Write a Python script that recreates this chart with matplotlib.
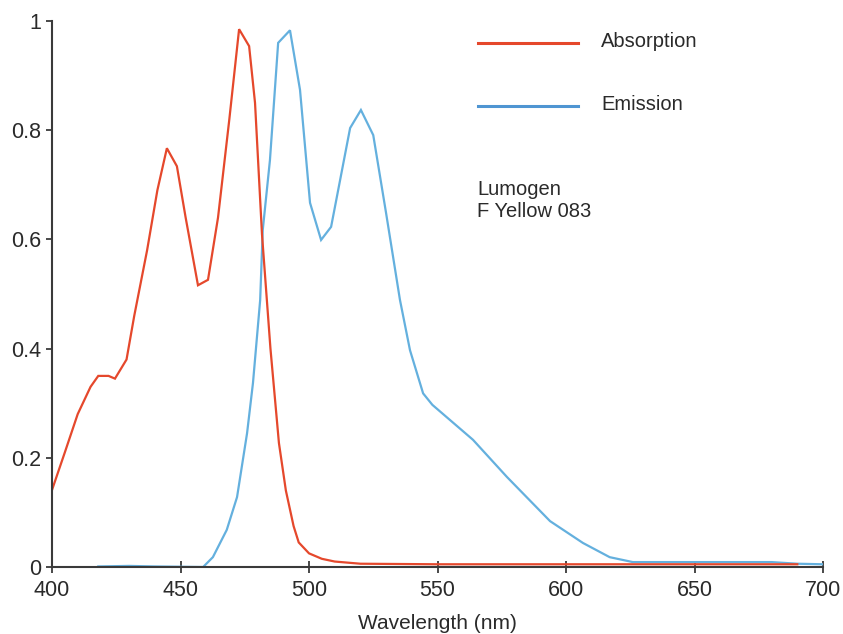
import matplotlib
matplotlib.use("Agg")
import matplotlib.pyplot as plt

abs_x = [400, 405, 410, 415, 418, 422, 424.5, 429, 432, 437, 441, 444.7, 448.6, 452,
         456.8, 460.7, 464.6, 469, 472.8, 476.7, 479, 481.7, 485, 488.3, 491, 494, 496,
         500, 505, 510, 520, 550, 600, 650, 690]
abs_y = [0.141, 0.21, 0.28, 0.33, 0.35, 0.35, 0.345, 0.38, 0.46, 0.58, 0.69, 0.767, 0.734, 0.64,
         0.516, 0.526, 0.64, 0.82, 0.985, 0.954, 0.85, 0.61, 0.40, 0.227, 0.14, 0.075, 0.045,
         0.025, 0.015, 0.01, 0.006, 0.005, 0.005, 0.005, 0.005]

em_x = [418, 430, 440, 458.8, 462.6, 468, 472, 475.9, 478.2, 481, 482, 484.8, 488, 492.6,
        496.5, 500.4, 504.7, 508.6, 516, 520.2, 525, 530, 535.4, 539.3, 544.4, 548,
        563.8, 577, 593.8, 606.6, 617, 626, 650, 680, 690, 700]
em_y = [0.001, 0.002, 0.001, 0.0, 0.018, 0.068, 0.128, 0.245, 0.337, 0.489, 0.617, 0.745, 0.96, 0.983,
        0.874, 0.667, 0.599, 0.623, 0.804, 0.837, 0.791, 0.648, 0.489, 0.397, 0.318, 0.297,
        0.233, 0.165, 0.084, 0.044, 0.018, 0.009, 0.009, 0.009, 0.006, 0.005]

x_ticks = [400, 450, 500, 550, 600, 650, 700]
y_ticks = [0, 0.2, 0.4, 0.6, 0.8, 1]
y_labels = ["0", "0.2", "0.4", "0.6", "0.8", "1"]

red = "#E5482C"
blue = "#64B0DE"
axc = "#3a3a3a"
txtc = "#2a2a2a"

plt.rcParams['font.family'] = ['Liberation Sans', 'DejaVu Sans']

fig = plt.figure(figsize=(8.43, 6.34), dpi=100)
ax = fig.add_axes([52/843, 1-567/634, (823-52)/843, (567-21)/634])

ax.plot(em_x, em_y, color=blue, lw=1.6, solid_joinstyle='miter')
ax.plot(abs_x, abs_y, color=red, lw=1.6, solid_joinstyle='miter')

ax.set_xlim(400, 700)
ax.set_ylim(0, 1)
ax.set_xticks(x_ticks)
ax.set_xticklabels([str(v) for v in x_ticks])
ax.set_yticks(y_ticks)
ax.set_yticklabels(y_labels)

for s in ['top', 'right']:
    ax.spines[s].set_visible(False)
for s in ['left', 'bottom']:
    ax.spines[s].set_color(axc)
    ax.spines[s].set_linewidth(1.5)

ax.tick_params(axis='x', direction='inout', length=8, width=1.3, color=axc,
               labelsize=15.5, labelcolor=txtc, pad=5)
ax.tick_params(axis='y', direction='out', length=4, width=1.3, color=axc,
               labelsize=15.5, labelcolor=txtc, pad=4)
for lbl in ax.get_xticklabels() + ax.get_yticklabels():
    lbl.set_clip_on(False)

ax.set_xlabel("Wavelength (nm)", fontsize=15, color=txtc, labelpad=10)

# legend drawn manually in axes coordinates
def ax_coords(px, py):
    return ((px - 52) / (823 - 52), (567 - py) / (567 - 21))

for py, tpy, col, name in [(43, 47, red, "Absorption"), (106, 110, "#4F95D2", "Emission")]:
    x0, y0 = ax_coords(478, py)
    x1, _ = ax_coords(578, py)
    ax.plot([x0, x1], [y0, y0], transform=ax.transAxes, color=col, lw=2.2, clip_on=False)
    tx, ty = ax_coords(601, tpy)
    ax.text(tx, ty, name, transform=ax.transAxes, fontsize=14.5, color=txtc,
            va='baseline', ha='left')

for line, bpy in [("Lumogen", 195), ("F Yellow 083", 217)]:
    tx, ty = ax_coords(477, bpy)
    ax.text(tx, ty, line, transform=ax.transAxes, fontsize=14.5, color=txtc,
            va='baseline', ha='left')

fig.savefig("out.png", dpi=100)
